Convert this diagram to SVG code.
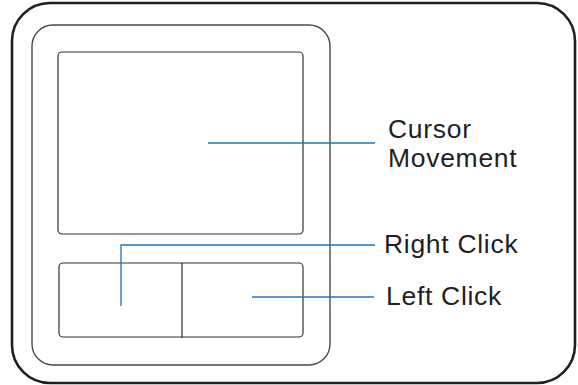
<svg xmlns="http://www.w3.org/2000/svg" width="578" height="385" viewBox="0 0 578 385">
<style>
.frame{fill:none;stroke:#231f20;stroke-width:2.6}
.bezel{fill:none;stroke:#4a4a4a;stroke-width:1.4}
.pad{fill:none;stroke:#333;stroke-width:1.2}
.lead{fill:none;stroke:#1b78c2;stroke-width:1.3}
.lbl{font-family:"Liberation Sans",Arial,sans-serif;font-size:26.5px;fill:#231f20;letter-spacing:0.7px}
</style>
<rect width="578" height="385" fill="#fff"/>
<g id="frame"><rect class="frame" x="12" y="3" width="563" height="380" rx="38" ry="38"/></g>
<g id="bezel"><rect class="bezel" x="32" y="25" width="298" height="340" rx="21" ry="21"/></g>
<g id="touchpad"><rect class="pad" x="58" y="52" width="245" height="182" rx="4" ry="4"/></g>
<g id="buttons">
<rect class="pad" x="59" y="263" width="244" height="74" rx="4" ry="4"/>
<line class="pad" x1="182" y1="263" x2="182" y2="338"/>
</g>
<g id="connectors">
<line class="lead" x1="208" y1="143" x2="375" y2="143"/>
<polyline class="lead" points="121,306 121,245 375,245"/>
<line class="lead" x1="252" y1="297" x2="374" y2="297"/>
</g>
<g id="labels">
<text class="lbl" x="388" y="138">Cursor</text>
<text class="lbl" x="388" y="167">Movement</text>
<text class="lbl" x="384" y="253">Right Click</text>
<text class="lbl" x="386" y="305">Left Click</text>
</g>
</svg>
